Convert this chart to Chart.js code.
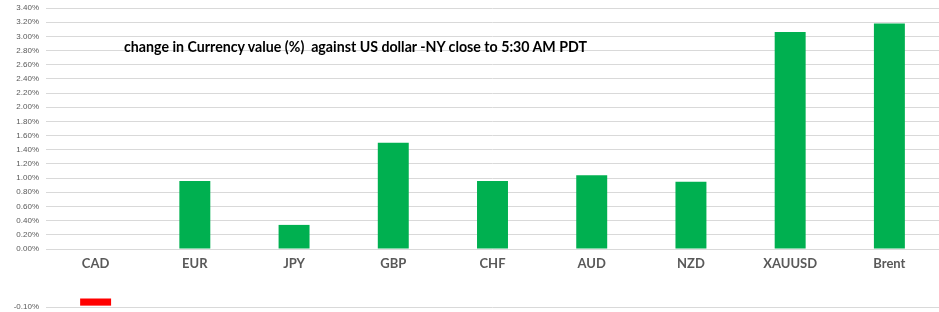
<!DOCTYPE html>
<html>
<head>
<meta charset="utf-8">
<script src="https://cdn.jsdelivr.net/npm/chart.js@4.4.0/dist/chart.umd.min.js"></script>
<style>
  body { margin: 0; background: #fff; }
  #wrap { position: relative; width: 939px; height: 312px; overflow: hidden; }
  #top { position: absolute; left: 0; top: -4px; width: 939px; height: 284px; }
  #bottom { position: absolute; left: 0; top: 280px; width: 939px; height: 39px; }
  #title { position: absolute; left: 124px; top: 38px; font: bold 14.2px Lato, "Open Sans", sans-serif; color: #000; white-space: pre; }
</style>
</head>
<body>
<div id="wrap">
  <div id="top"><canvas id="mainChart"></canvas></div>
  <div id="bottom"><canvas id="negChart"></canvas></div>
  <div id="title">change in Currency value (%)  against US dollar -NY close to 5:30 AM PDT</div>
</div>
<script>
// Change vs US dollar, percent
const currencies = ['CAD', 'EUR', 'JPY', 'GBP', 'CHF', 'AUD', 'NZD', 'XAUUSD', 'Brent'];
const changePct = [-0.085, 0.96, 0.34, 1.50, 0.96, 1.04, 0.95, 3.06, 3.18];

const upColor = '#00b050';
const downColor = '#ff0000';
const gridColor = '#d9d9d9';
const tickColor = '#595959';

const barColors = changePct.map(v => v < 0 ? downColor : upColor);
const pct = v => Number(v).toFixed(2) + '%';

// Main chart: 0% to 3.4%
new Chart(document.getElementById('mainChart'), {
    type: 'bar',
    data: {
        labels: currencies,
        datasets: [{
            data: changePct,
            backgroundColor: barColors,
            barPercentage: 0.312,
            categoryPercentage: 1
        }]
    },
    options: {
        responsive: true,
        maintainAspectRatio: false,
        animation: false,
        layout: { padding: { top: 12, right: 0, bottom: 0, left: 0 } },
        plugins: { legend: { display: false }, tooltip: { enabled: false } },
        scales: {
            x: {
                grid: { display: false },
                border: { display: false },
                ticks: { color: tickColor, font: { family: 'Lato', size: 13, weight: 'bold' }, padding: -1 },
                afterFit: s => { s.height = 31; }
            },
            y: {
                min: 0,
                max: 3.4,
                ticks: { stepSize: 0.2, color: tickColor, font: { family: 'Liberation Sans', size: 8 }, padding: 7, callback: pct },
                grid: { color: gridColor, drawTicks: false },
                border: { display: false },
                afterFit: s => { s.width = 46; }
            }
        }
    }
});

// Lower panel for the negative value
new Chart(document.getElementById('negChart'), {
    type: 'bar',
    data: {
        labels: currencies,
        datasets: [{
            data: changePct,
            backgroundColor: barColors,
            barPercentage: 0.312,
            categoryPercentage: 1
        }]
    },
    options: {
        responsive: true,
        maintainAspectRatio: false,
        animation: false,
        layout: { padding: { top: 18, bottom: 12, right: 0, left: 0 } },
        plugins: { legend: { display: false }, tooltip: { enabled: false } },
        scales: {
            x: { display: false },
            y: {
                min: -0.1,
                max: 0,
                ticks: {
                    stepSize: 0.1, autoSkip: false, color: tickColor, font: { family: 'Liberation Sans', size: 8 }, padding: 7,
                    callback: v => v < 0 ? pct(v) : ''
                },
                grid: { color: c => c.tick && c.tick.value < 0 ? gridColor : 'rgba(0,0,0,0)', drawTicks: false },
                border: { display: false },
                afterFit: s => { s.width = 46; }
            }
        }
    }
});
</script>
</body>
</html>
